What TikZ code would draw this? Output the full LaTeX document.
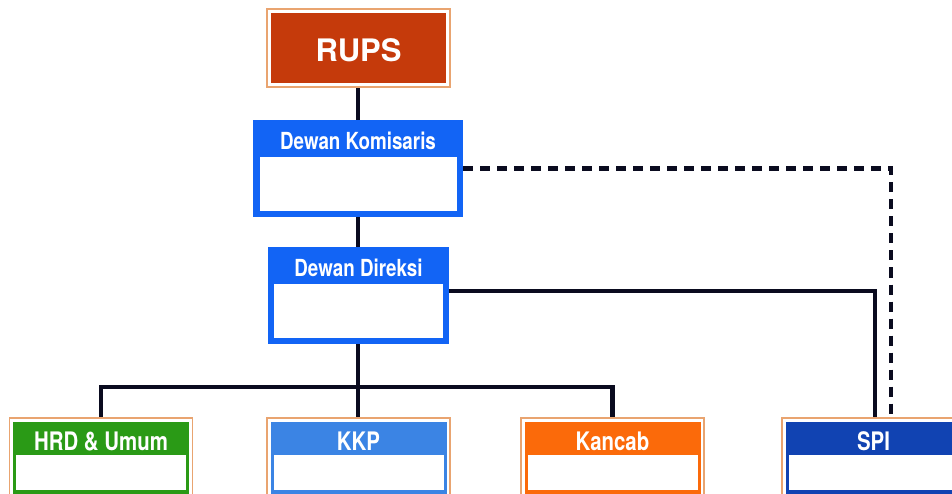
\documentclass[tikz,border=0pt]{standalone}
\usepackage{fontspec}
\setmainfont{TeX Gyre Heros}
\newfontfamily\condfont[FakeStretch=0.8]{TeX Gyre Heros}
\usetikzlibrary{calc}
\definecolor{rupsred}{RGB}{197,58,11}
\definecolor{tanline}{RGB}{233,164,112}
\definecolor{mainblue}{RGB}{18,100,245}
\definecolor{hrdgreen}{RGB}{42,154,22}
\definecolor{kkpblue}{RGB}{59,132,228}
\definecolor{kanorange}{RGB}{251,106,10}
\definecolor{spiblue}{RGB}{17,67,178}
\definecolor{linecol}{RGB}{10,11,31}
\pgfdeclarelayer{bg}
\pgfsetlayers{bg,main}
\tikzset{
  x=1pt, y=1pt,
  fillbox/.style={draw=none, inner sep=0pt, outer sep=0pt},
  outlinebox/.style={draw=tanline, line width=1.5pt, fill=white, inner sep=0pt, outer sep=0pt},
  titletext/.style={text=white, inner sep=0pt, font=\condfont\bfseries\fontsize{23.5}{23.5}\selectfont},
  bottomtitle/.style={text=white, inner sep=0pt, font=\condfont\bfseries\fontsize{25.5}{25.5}\selectfont},
  conn/.style={draw=linecol, line width=4.8pt},
  dashconn/.style={draw=linecol, line width=4.8pt, dash pattern=on 10pt off 7pt},
}
\newcommand{\bottomunit}[4]{%
  % #1 name, #2 centre x, #3 colour, #4 title
  \node[outlinebox, minimum width=183pt, minimum height=90pt, anchor=north] (#1O) at (#2,75) {};
  \node[fillbox, fill=#3, minimum width=176pt, minimum height=86pt, anchor=north] (#1) at (#2,71) {};
  \fill[white] ($(#1.north west)+(3,-33)$) rectangle ($(#1.north east)+(-3,-68)$);
  \node[bottomtitle] (#1T) at (#2,52) {#4};
}
\begin{document}
\begin{tikzpicture}
\useasboundingbox (0,0) rectangle (952,493);
\clip (0,0) rectangle (952,493);

% RUPS
\node[outlinebox, minimum width=183pt, minimum height=78pt] (rupsO) at (358.5,445) {};
\node[fillbox, fill=rupsred, minimum width=175pt, minimum height=70pt] (rups) at (358.5,445) {};
\node[text=white, inner sep=0pt, font=\bfseries\fontsize{31}{31}\selectfont] (rupsT) at (358.5,443) {RUPS};

% Dewan Komisaris
\node[fillbox, fill=mainblue, minimum width=210pt, minimum height=97pt] (kom) at (358,324.5) {};
\fill[white] (260,282) rectangle (457,336);
\node[titletext] (komT) at (358,352) {Dewan Komisaris};

% Dewan Direksi
\node[fillbox, fill=mainblue, minimum width=181pt, minimum height=97pt] (dir) at (358.5,197.5) {};
\fill[white] (274,155) rectangle (443,209);
\node[titletext] (dirT) at (358.5,225) {Dewan Direksi};

% bottom units
\bottomunit{hrd}{101}{hrdgreen}{HRD \& Umum}
\bottomunit{kkp}{358.5}{kkpblue}{KKP}
\bottomunit{kan}{612.5}{kanorange}{Kancab}
\bottomunit{spi}{873.5}{spiblue}{SPI}

% connectors
\begin{pgfonlayer}{bg}
\fill[white] (0,0) rectangle (952,493);
\draw[conn] (rupsO.south -| 358,0) -- (kom.north -| 358,0);
\draw[conn] (kom.south -| 358,0) -- (dir.north -| 358,0);
\draw[conn] (dir.south -| 358,0) -- (358,106) coordinate (junc);
\draw[conn] (hrdO.north) |- (junc) -| (kanO.north);
\draw[conn] (junc) -- (kkpO.north -| 358,0);
\draw[conn] ([yshift=4.5pt]dir.east) -| ([xshift=1.5pt]spiO.north);
\draw[dashconn] (kom.east) -| ([xshift=17.5pt]spiO.north);
\end{pgfonlayer}
\end{tikzpicture}
\end{document}
